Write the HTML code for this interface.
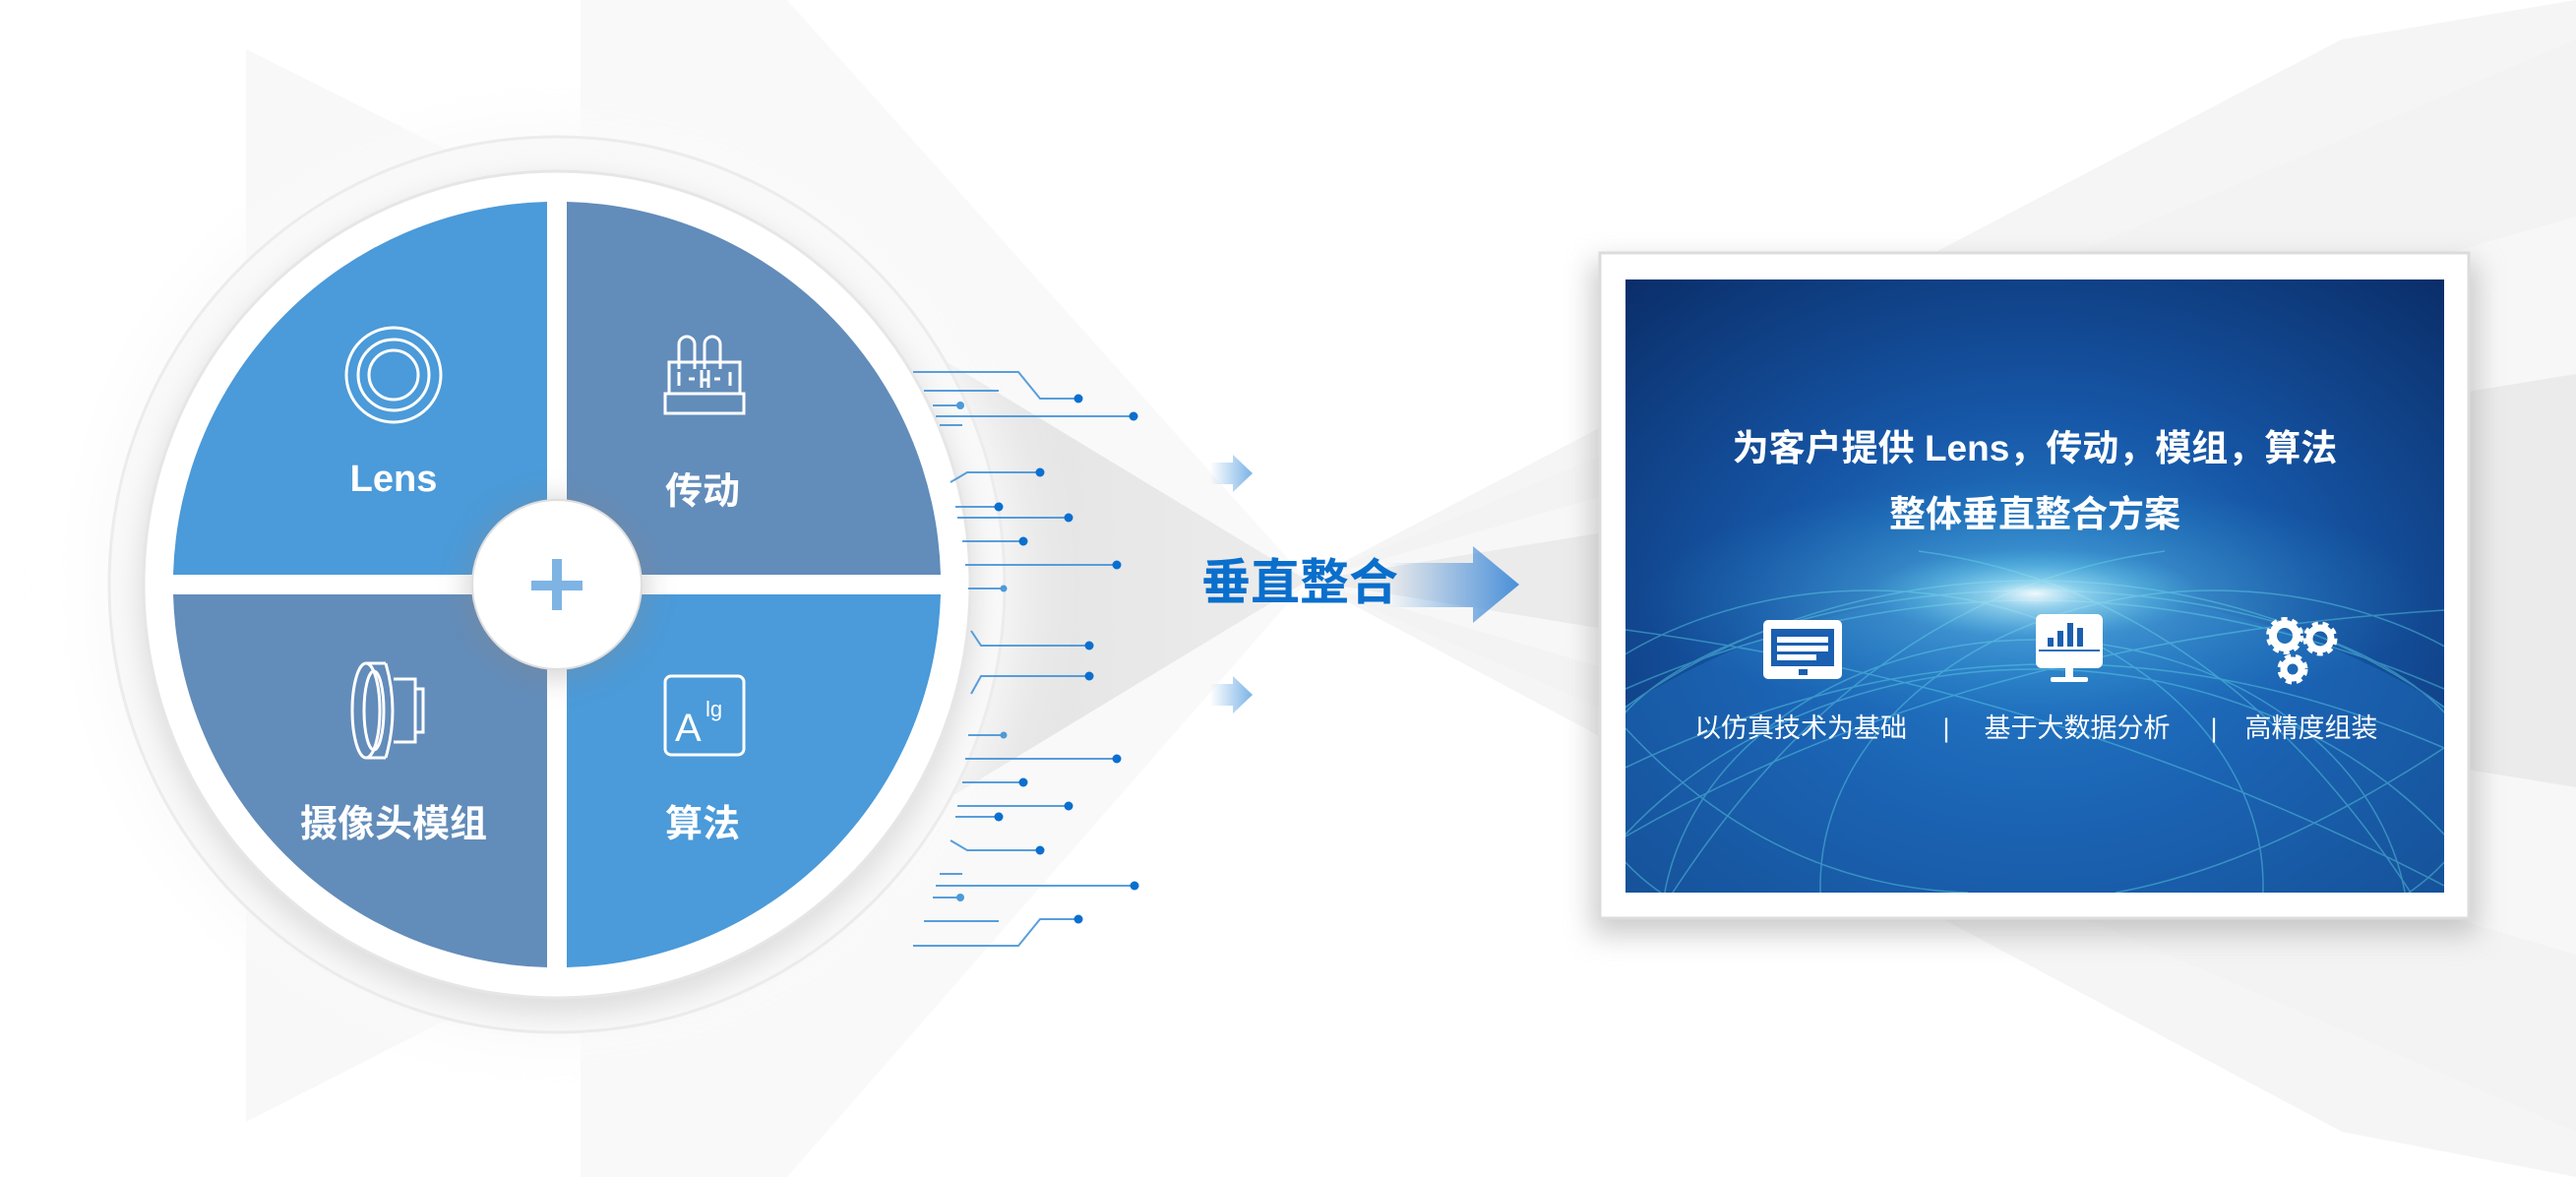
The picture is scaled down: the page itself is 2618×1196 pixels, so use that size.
<!DOCTYPE html>
<html><head><meta charset="utf-8"><style>
html,body{margin:0;padding:0;background:#fff;width:2618px;height:1196px;overflow:hidden;}
svg{display:block}
text{font-family:"Liberation Sans","Noto Sans CJK SC",sans-serif;}
</style></head><body>
<svg width="2618" height="1196" viewBox="0 0 2618 1196" xmlns="http://www.w3.org/2000/svg">
<defs>
<linearGradient id="beamL" x1="0" x2="1" y1="0" y2="0">
<stop offset="0" stop-color="#e2e2e2"/><stop offset="1" stop-color="#ececec"/></linearGradient>
<linearGradient id="arr" x1="0" x2="1"><stop offset="0" stop-color="#4a90d9" stop-opacity="0"/><stop offset="1" stop-color="#4a90d9"/></linearGradient>
<linearGradient id="arrs" x1="0" x2="1"><stop offset="0" stop-color="#7ab3e6" stop-opacity="0"/><stop offset="1" stop-color="#7ab3e6"/></linearGradient>
<radialGradient id="bg" cx="0.5" cy="0.55" r="0.75"><stop offset="0" stop-color="#2a86d0"/><stop offset="0.45" stop-color="#1656a6"/><stop offset="1" stop-color="#0a2d68"/></radialGradient>
<radialGradient id="glow" cx="0.5" cy="0.5" r="0.5"><stop offset="0" stop-color="#ffffff" stop-opacity="0.95"/><stop offset="0.3" stop-color="#8fe3f5" stop-opacity="0.6"/><stop offset="1" stop-color="#40c0e0" stop-opacity="0"/></radialGradient>
<filter id="sh" x="-20%" y="-20%" width="140%" height="140%"><feGaussianBlur stdDeviation="14"/></filter>
<filter id="bl" x="-20%" y="-20%" width="140%" height="140%"><feGaussianBlur stdDeviation="30"/></filter>
<clipPath id="cp"><rect x="1652" y="284" width="832" height="623"/></clipPath>
</defs>
<!-- beams -->
<polygon points="250,50 1329,590 250,1140" fill="#f8f8f8"/>
<polygon points="590,0 800,0 1329,590 800,1196 590,1196" fill="#f9f9f9"/>
<polygon points="900,330 1329,590 900,850" fill="url(#beamL)"/>
<polygon points="1329,590 2618,40 2618,1150" fill="#f7f7f7"/>
<polygon points="1329,590 2380,40 2618,0 2618,220" fill="#f1f1f1" opacity="0.7"/>
<polygon points="1329,590 2380,1150 2618,1196 2618,970" fill="#f1f1f1" opacity="0.7"/>
<polygon points="1329,590 2618,380 2618,800" fill="#ebebeb"/>
<!-- circle halos -->
<circle cx="566" cy="594" r="470" fill="#fafafa" filter="url(#bl)"/>
<circle cx="566" cy="594" r="455" fill="#f9f9f9" stroke="#ececec" stroke-width="3"/>
<circle cx="566" cy="606" r="424" fill="#d6d6d6" filter="url(#sh)" opacity="0.8"/>
<circle cx="566" cy="594" r="420" fill="#fff"/>
<circle cx="566" cy="594" r="420" fill="none" stroke="#e6e6e6" stroke-width="3"/>
<!-- quadrants -->
<path d="M556,584 L556,205 A390,390 0 0 0 176,584 Z" fill="#4b9ad9"/>
<path d="M576,584 L576,205 A390,390 0 0 1 956,584 Z" fill="#628cba"/>
<path d="M556,604 L556,983 A390,390 0 0 1 176,604 Z" fill="#628cba"/>
<path d="M576,604 L576,983 A390,390 0 0 0 956,604 Z" fill="#4b9ad9"/>
<circle cx="566" cy="598" r="92" fill="#888" filter="url(#sh)" opacity="0.35"/>
<circle cx="566" cy="594" r="86" fill="#fff" stroke="#dedede" stroke-width="2"/>
<rect x="540" y="590" width="52" height="10" fill="#7eb4e4"/>
<rect x="561" y="568" width="10" height="52" fill="#7eb4e4"/>
<!-- icons -->
<g fill="none" stroke="#fff" stroke-width="3">
<circle cx="400" cy="381" r="48"/><circle cx="400" cy="381" r="36"/><circle cx="400" cy="381" r="25"/>
<path d="M690,375 V350 a8,8 0 0 1 16,0 V375 M716,375 V350 a8,8 0 0 1 16,0 V375"/>
<rect x="680" y="368" width="72" height="32"/><rect x="676" y="400" width="80" height="20"/>
<path d="M690,378 v14 M742,378 v14 M700,385 h6 M726,385 h6 M713,376 v18 M720,376 v18 M713,386 h7"/>
<ellipse cx="372" cy="722" rx="14" ry="48"/><ellipse cx="380" cy="722" rx="10" ry="40"/>
<path d="M372,674 H392 M372,770 H392 M392,674 q14,48 0,96 M400,690 h22 v64 h-22 M422,700 h8 v44 h-8"/>
<rect x="676" y="687" width="80" height="80" rx="6"/>
</g>
<text x="686" y="753" font-size="40" fill="#fff">A</text>
<text x="717" y="728" font-size="22" fill="#fff">lg</text>
<g font-weight="bold" fill="#fff" font-size="38" text-anchor="middle">
<text x="400" y="499">Lens</text><text x="714" y="512">传动</text>
<text x="400" y="850">摄像头模组</text><text x="714" y="850">算法</text></g>
<!-- circuit lines -->
<g stroke="#3d8fd6" stroke-width="2" fill="none" opacity="0.85">
<path d="M928,378 H1035 L1057,405 H1096"/><path d="M939,397 H1015"/><path d="M948,412 H976"/>
<path d="M951,423 H1152"/><path d="M955,432 H978"/>
<path d="M966,490 L983,480 H1057"/><path d="M971,515 H1015"/><path d="M973,526 H1086"/><path d="M978,550 H1040"/>
<path d="M981,574 H1135"/><path d="M984,598 H1020"/>
<path d="M987,641 L997,656 H1107"/><path d="M987,705 L997,687 H1107"/>
<path d="M984,747 H1020"/><path d="M981,771 H1135"/><path d="M978,795 H1040"/><path d="M973,819 H1086"/><path d="M971,830 H1015"/>
<path d="M966,854 L983,864 H1057"/><path d="M955,888 H978"/><path d="M951,900 H1153"/><path d="M948,912 H976"/>
<path d="M939,936 H1015"/><path d="M928,961 H1035 L1057,934 H1096"/>
</g>
<g fill="#0b6fcf">
<circle cx="1096" cy="405" r="4.5"/><circle cx="1152" cy="423" r="4.5"/><circle cx="976" cy="412" r="4" fill="#4e9ad9"/>
<circle cx="1057" cy="480" r="4.5"/><circle cx="1015" cy="515" r="4.5"/><circle cx="1086" cy="526" r="4.5"/><circle cx="1040" cy="550" r="4.5"/>
<circle cx="1135" cy="574" r="4.5"/><circle cx="1020" cy="598" r="3.5" fill="#4e9ad9"/>
<circle cx="1107" cy="656" r="4.5"/><circle cx="1107" cy="687" r="4.5"/>
<circle cx="1020" cy="747" r="3.5" fill="#4e9ad9"/><circle cx="1135" cy="771" r="4.5"/><circle cx="1040" cy="795" r="4.5"/><circle cx="1086" cy="819" r="4.5"/><circle cx="1015" cy="830" r="4.5"/>
<circle cx="1057" cy="864" r="4.5"/><circle cx="1153" cy="900" r="4.5"/><circle cx="976" cy="912" r="4" fill="#4e9ad9"/><circle cx="1096" cy="934" r="4.5"/>
</g>
<!-- arrows -->
<polygon points="1230,470 1253,470 1253,462 1273,481 1253,500 1253,492 1230,492" fill="url(#arrs)"/>
<polygon points="1230,695 1253,695 1253,687 1273,706 1253,725 1253,717 1230,717" fill="url(#arrs)"/>
<polygon points="1410,572 1497,572 1497,555 1544,594 1497,633 1497,617 1410,617" fill="url(#arr)"/>
<text x="1221" y="609" font-size="50" font-weight="bold" fill="#0a6fcc">垂直整合</text>
<!-- card -->
<rect x="1618" y="266" width="900" height="684" fill="#aaa" filter="url(#sh)" opacity="0.6"/>
<rect x="1626" y="257" width="883" height="676" fill="#fff" stroke="#dcdcdc" stroke-width="3"/>
<g clip-path="url(#cp)">
<rect x="1652" y="284" width="832" height="623" fill="url(#bg)"/>
<ellipse cx="2068" cy="1200" rx="700" ry="600" fill="#1f6fc0" opacity="0.5"/>
<g fill="none" stroke="#5fd3e8" stroke-width="1.5" opacity="0.45">
<ellipse cx="2068" cy="1050" rx="600" ry="460"/><ellipse cx="2068" cy="1100" rx="520" ry="420"/>
<ellipse cx="1900" cy="900" rx="400" ry="300"/><ellipse cx="2250" cy="900" rx="400" ry="300"/>
<ellipse cx="2068" cy="800" rx="450" ry="200"/><ellipse cx="2068" cy="950" rx="380" ry="300"/>
<path d="M1652,700 Q2068,520 2484,700"/><path d="M1652,780 Q2068,580 2484,760"/>
<path d="M1700,907 Q1900,600 2200,560"/><path d="M2450,907 Q2250,600 1950,560"/>
<path d="M1652,850 Q2000,650 2484,620"/><path d="M1652,640 Q2100,700 2484,900"/>
<path d="M1652,740 Q1800,900 2000,907"/><path d="M2484,760 Q2300,880 2150,907"/>
</g>
<ellipse cx="2068" cy="603" rx="170" ry="45" fill="url(#glow)"/>
<ellipse cx="2068" cy="610" rx="400" ry="120" fill="url(#glow)" opacity="0.45"/>
</g>
<g fill="#fff" font-weight="bold" font-size="37" text-anchor="middle">
<text x="2068" y="468">为客户提供 Lens，传动，模组，算法</text>
<text x="2068" y="535">整体垂直整合方案</text></g>
<g fill="#fff" font-size="27" text-anchor="middle">
<text x="1830" y="749">以仿真技术为基础</text><text x="1978" y="749">|</text>
<text x="2111" y="749">基于大数据分析</text><text x="2250" y="749">|</text>
<text x="2349" y="749">高精度组装</text></g>
<!-- card icons -->
<rect x="1792" y="630" width="80" height="60" rx="5" fill="#fff"/>
<rect x="1800" y="639" width="64" height="38" fill="#1a5fb0"/>
<rect x="1806" y="647" width="52" height="6" fill="#fff"/><rect x="1806" y="656" width="52" height="6" fill="#fff"/><rect x="1806" y="665" width="40" height="6" fill="#fff"/>
<rect x="1828" y="680" width="9" height="6" fill="#1a5fb0"/>
<rect x="2069" y="624" width="68" height="55" rx="6" fill="#fff"/>
<rect x="2072" y="660" width="62" height="2" fill="#2a6fb8"/>
<rect x="2099" y="679" width="8" height="10" fill="#fff"/><rect x="2084" y="688" width="38" height="5" rx="2" fill="#fff"/>
<g fill="#1a5fb0"><rect x="2081" y="648" width="6" height="9"/><rect x="2091" y="641" width="6" height="16"/><rect x="2101" y="633" width="6" height="24"/><rect x="2111" y="638" width="6" height="19"/></g>
<g fill="none" stroke="#fff" stroke-dasharray="5 4">
<circle cx="2322" cy="646" r="14" stroke-width="10"/><circle cx="2358" cy="649" r="13" stroke-width="9"/><circle cx="2330" cy="680" r="11" stroke-width="9"/></g>
<g fill="none" stroke="#fff"><circle cx="2322" cy="646" r="12" stroke-width="8"/><circle cx="2358" cy="649" r="11" stroke-width="7"/><circle cx="2330" cy="680" r="9" stroke-width="7"/></g>
</svg>
</body></html>
